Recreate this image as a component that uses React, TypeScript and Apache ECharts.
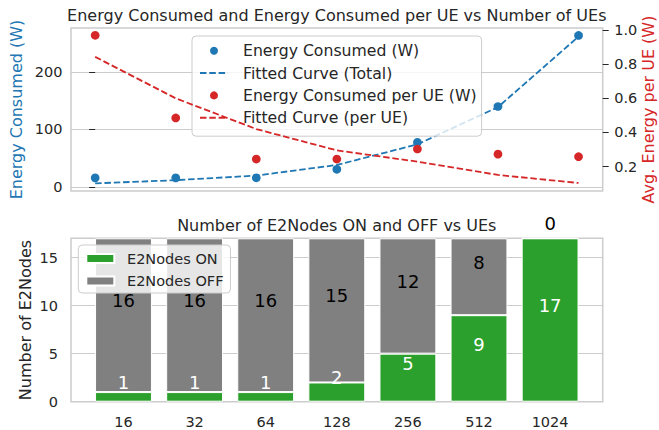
import React, { useEffect, useRef } from "react";
import * as echarts from "echarts";

const ueCounts = ["16", "32", "64", "128", "256", "512", "1024"];
const energyTotal = [15.5, 15.5, 15.6, 30.5, 77.5, 140, 264];
const energyPerUe = [0.969, 0.485, 0.244, 0.244, 0.303, 0.273, 0.258];
const fitTotal = [5.9, 11.5, 19.5, 38, 74, 139, 262];
const fitPerUe = [0.843, 0.6, 0.42, 0.295, 0.229, 0.151, 0.104];
const nodesOn = [1, 1, 1, 2, 5, 9, 17];
const nodesOff = [16, 16, 16, 15, 12, 8, 0];
const leftTicks = [0, 100, 200];
const rightTicks = [0.2, 0.4, 0.6, 0.8, 1.0];
const bottomTicks = [0, 5, 10, 15];

const FONT = "DejaVu Sans";
const TXT = "#262626";
const BLUE = "#1f77b4";
const RED = "#d62728";
const GREEN = "#2ca02c";
const GRAY = "#808080";
const GRID = "#cccccc";

export default function App() {
  const ref = useRef<HTMLDivElement>(null);
  useEffect(() => {
    if (!ref.current) return;
    const chart = echarts.init(ref.current, undefined, { renderer: "svg" });
    const idx = ueCounts.map((_, i) => i);
    const pairs = (arr: number[]) => arr.map((v, i) => [idx[i], v]);
    const dashed = { type: [6.5, 2.8] as any, width: 1.8 };
    const barLabel = (color: string) => ({
      show: true,
      position: "inside",
      offset: [0, -14.4],
      color,
      fontSize: 18,
      fontFamily: FONT,
      formatter: (p: any) => String(p.value),
    });
    const option: any = {
      animation: false,
      backgroundColor: "#ffffff",
      textStyle: { fontFamily: FONT },
      graphic: [
        {
          type: "text",
          x: 336.8,
          y: 15.5,
          style: {
            text: "Energy Consumed and Energy Consumed per UE vs Number of UEs",
            textAlign: "center",
            textVerticalAlign: "middle",
            fontSize: 16,
            fontFamily: FONT,
            fill: TXT,
          },
        },
        {
          type: "text",
          x: 336.8,
          y: 225,
          style: {
            text: "Number of E2Nodes ON and OFF vs UEs",
            textAlign: "center",
            textVerticalAlign: "middle",
            fontSize: 16,
            fontFamily: FONT,
            fill: TXT,
          },
        },
      ],
      grid: [
        { left: 71, right: 56.3, top: 28, height: 163, show: true, borderColor: GRID, borderWidth: 1.5, backgroundColor: "transparent", outerBoundsMode: "none", containLabel: false },
        { left: 71, right: 56.3, top: 238.3, height: 163.4, show: true, borderColor: GRID, borderWidth: 1.5, backgroundColor: "transparent", outerBoundsMode: "none", containLabel: false },
        { left: 87.95, right: 73.35, top: 238.3, height: 163.4, show: false, outerBoundsMode: "none", containLabel: false },
      ],
      legend: [
        {
          orient: "vertical",
          left: 192,
          top: 36,
          itemWidth: 28,
          itemHeight: 8,
          itemGap: 6.3,
          padding: [6.8, 5, 10.5, 7],
          backgroundColor: "rgba(255,255,255,0.8)",
          borderColor: GRID,
          borderWidth: 1,
          borderRadius: 4,
          textStyle: { fontSize: 15.7, color: TXT, fontFamily: FONT, padding: [0, 0, 0, 10] },
          data: [
            { name: "Energy Consumed (W)", icon: "circle" },
            { name: "Fitted Curve (Total)", itemStyle: { color: "transparent", borderWidth: 0, opacity: 0 } },
            { name: "Energy Consumed per UE (W)", icon: "circle" },
            { name: "Fitted Curve (per UE)", itemStyle: { color: "transparent", borderWidth: 0, opacity: 0 } },
          ],
        },
        {
          orient: "vertical",
          left: 78.3,
          top: 245,
          itemWidth: 28,
          itemHeight: 9,
          itemGap: 7.4,
          padding: [6.1, 7, 4.5, 7],
          backgroundColor: "rgba(255,255,255,0.8)",
          borderColor: GRID,
          borderWidth: 1,
          borderRadius: 4,
          textStyle: { fontSize: 14.5, color: TXT, fontFamily: FONT, padding: [0, 0, 0, 7.7] },
          data: [
            { name: "E2Nodes ON", icon: "rect" },
            { name: "E2Nodes OFF", icon: "rect" },
          ],
        },
      ],
      xAxis: [
        {
          gridIndex: 0,
          type: "value",
          min: -0.3,
          max: 6.3,
          axisLine: { show: false },
          axisTick: { show: false },
          axisLabel: { show: false },
          splitLine: { show: false },
        },
        {
          gridIndex: 1,
          type: "value",
          min: 0,
          max: 1,
          axisLine: { show: false },
          axisTick: { show: false },
          axisLabel: { show: false },
          splitLine: { show: false },
        },
        {
          gridIndex: 2,
          type: "category",
          data: ueCounts,
          boundaryGap: true,
          axisLine: { show: false },
          axisTick: { show: false },
          axisLabel: { fontSize: 14.5, color: TXT, fontFamily: FONT, margin: 13 },
          splitLine: { show: false },
        },
      ],
      yAxis: [
        {
          gridIndex: 0,
          type: "value",
          min: -7.4,
          max: 277,
          name: "Energy Consumed (W)",
          nameLocation: "middle",
          nameRotate: 90,
          nameGap: 47,
          nameMoveOverlap: false,
          nameTextStyle: { color: BLUE, fontSize: 16, fontFamily: FONT },
          axisLine: { show: false },
          axisTick: { show: true, length: 6, lineStyle: { color: TXT, width: 1 }, customValues: leftTicks },
          axisLabel: { customValues: leftTicks, fontSize: 14.5, color: TXT, fontFamily: FONT, margin: 8.5 },
          splitLine: { show: true, lineStyle: { color: GRID, width: 1 } },
        },
        {
          gridIndex: 0,
          type: "value",
          position: "right",
          min: 0.057,
          max: 1.012,
          name: "Avg. Energy per UE (W)",
          nameLocation: "middle",
          nameRotate: 90,
          nameGap: 38,
          nameMoveOverlap: false,
          nameTextStyle: { color: RED, fontSize: 16, fontFamily: FONT },
          axisLine: { show: false },
          axisTick: { show: true, length: 6, lineStyle: { color: TXT, width: 1 }, customValues: rightTicks },
          axisLabel: {
            customValues: rightTicks,
            formatter: (v: number) => v.toFixed(1),
            fontSize: 14.5,
            color: TXT,
            fontFamily: FONT,
            margin: 11.5,
          },
          splitLine: { show: false },
        },
        {
          gridIndex: 1,
          type: "value",
          min: 0,
          max: 17,
          name: "Number of E2Nodes",
          nameLocation: "middle",
          nameRotate: 90,
          nameGap: 37.5,
          nameMoveOverlap: false,
          nameTextStyle: { color: TXT, fontSize: 16, fontFamily: FONT },
          axisLine: { show: false },
          axisTick: { show: false, customValues: bottomTicks },
          axisLabel: { customValues: bottomTicks, fontSize: 14.5, color: TXT, fontFamily: FONT, margin: 13 },
          splitLine: { show: true, lineStyle: { color: GRID, width: 1 } },
        },
        {
          gridIndex: 2,
          type: "value",
          min: 0,
          max: 17,
          show: false,
          splitLine: { show: false },
        },
      ],
      series: [
        {
          name: "Fitted Curve (Total)",
          type: "line",
          xAxisIndex: 0,
          yAxisIndex: 0,
          data: pairs(fitTotal),
          symbol: "none",
          showSymbol: false,
          lineStyle: { color: BLUE, ...dashed },
          itemStyle: { color: BLUE },
          z: 2,
        },
        {
          name: "Energy Consumed (W)",
          type: "scatter",
          xAxisIndex: 0,
          yAxisIndex: 0,
          data: pairs(energyTotal),
          symbolSize: 8.7,
          itemStyle: { color: BLUE, opacity: 1 },
          z: 3,
        },
        {
          name: "Fitted Curve (per UE)",
          type: "line",
          xAxisIndex: 0,
          yAxisIndex: 1,
          data: pairs(fitPerUe),
          symbol: "none",
          showSymbol: false,
          lineStyle: { color: RED, ...dashed },
          itemStyle: { color: RED },
          z: 4,
        },
        {
          name: "Energy Consumed per UE (W)",
          type: "scatter",
          xAxisIndex: 0,
          yAxisIndex: 1,
          data: pairs(energyPerUe),
          symbolSize: 8.7,
          itemStyle: { color: RED, opacity: 1 },
          z: 5,
        },
        {
          name: "E2Nodes ON",
          type: "bar",
          xAxisIndex: 2,
          yAxisIndex: 3,
          stack: "nodes",
          barWidth: "80%",
          data: nodesOn,
          itemStyle: { color: GREEN, borderColor: "#ffffff", borderWidth: 1 },
          label: barLabel("#ffffff"),
        },
        {
          name: "E2Nodes OFF",
          type: "bar",
          xAxisIndex: 2,
          yAxisIndex: 3,
          stack: "nodes",
          barWidth: "80%",
          data: nodesOff,
          itemStyle: { color: GRAY, borderColor: "#ffffff", borderWidth: 1 },
          label: barLabel("#000000"),
        },
      ],
    };
    chart.setOption(option);
    return () => chart.dispose();
  }, []);
  return (
    <div
      ref={ref}
      style={{ position: "fixed", left: 0, top: 0, width: 659, height: 430, background: "#fff" }}
    />
  );
}
